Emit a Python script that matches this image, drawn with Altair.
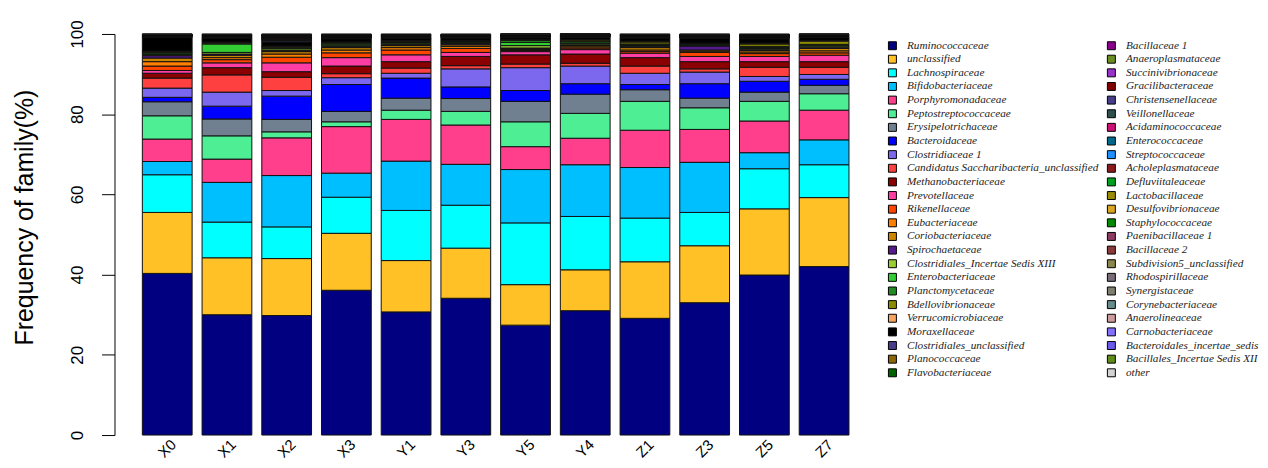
import altair as alt
import pandas as pd

samples = ["X0", "X1", "X2", "X3", "Y1", "Y3", "Y5", "Y4", "Z1", "Z3", "Z5", "Z7"]

families = [
    "Ruminococcaceae", "unclassified", "Lachnospiraceae", "Bifidobacteriaceae",
    "Porphyromonadaceae", "Peptostreptococcaceae", "Erysipelotrichaceae", "Bacteroidaceae",
    "Clostridiaceae 1", "Candidatus Saccharibacteria_unclassified", "Methanobacteriaceae",
    "Prevotellaceae", "Rikenellaceae", "Eubacteriaceae", "Coriobacteriaceae", "Spirochaetaceae",
    "Clostridiales_Incertae Sedis XIII", "Enterobacteriaceae", "Planctomycetaceae",
    "Bdellovibrionaceae", "Verrucomicrobiaceae", "Moraxellaceae", "Clostridiales_unclassified",
    "Planococcaceae", "Flavobacteriaceae",
    "Bacillaceae 1", "Anaeroplasmataceae", "Succinivibrionaceae", "Gracilibacteraceae",
    "Christensenellaceae", "Veillonellaceae", "Acidaminococcaceae", "Enterococcaceae",
    "Streptococcaceae", "Acholeplasmataceae", "Defluviitaleaceae", "Lactobacillaceae",
    "Desulfovibrionaceae", "Staphylococcaceae", "Paenibacillaceae 1", "Bacillaceae 2",
    "Subdivision5_unclassified", "Rhodospirillaceae", "Synergistaceae", "Corynebacteriaceae",
    "Anaerolineaceae", "Carnobacteriaceae", "Bacteroidales_incertae_sedis",
    "Bacillales_Incertae Sedis XII", "other",
]

colors = [
    "#000080", "#FFC125", "#00FFFF", "#00BFFF",
    "#FF3E8C", "#4EEE94", "#708090", "#0000FF",
    "#7B68EE", "#FF4040", "#8B0000",
    "#FF3EA5", "#FF4500", "#FF7F00", "#CD8500", "#551A8B",
    "#9ACD32", "#32CD32", "#228B22",
    "#8B8B00", "#F4A460", "#000000", "#483D8B",
    "#8B6508", "#006400",
    "#8B008B", "#6B8E23", "#9932CC", "#800000",
    "#483D8B", "#2F4F4F", "#CD1076", "#00688B",
    "#1E90FF", "#8B1A1A", "#00A020", "#9B8B00",
    "#DAA520", "#008B00", "#8B3A62", "#8B3A3A",
    "#8B864E", "#786C78", "#7F7F6F", "#668B8B",
    "#CD9B9B", "#8470FF", "#6A5AEE",
    "#5E8B1A", "#D3D3D3",
]

# values per family, in sample order X0 X1 X2 X3 Y1 Y3 Y5 Y4 Z1 Z3 Z5 Z7
ruminococcaceae = [40.3, 30.0, 29.8, 36.1, 30.7, 34.1, 27.4, 31.0, 29.1, 33.0, 39.9, 42.0]
unclassified = [15.2, 14.2, 14.2, 14.2, 12.8, 12.5, 10.1, 10.2, 14.1, 14.2, 16.5, 17.2]
lachnospiraceae = [9.4, 8.9, 7.9, 9.0, 12.5, 10.7, 15.4, 13.3, 10.9, 8.3, 10.0, 8.2]
bifidobacteriaceae = [3.3, 9.9, 12.8, 6.0, 12.3, 10.2, 13.3, 12.9, 12.6, 12.5, 4.0, 6.2]
porphyromonadaceae = [5.6, 5.8, 9.4, 11.6, 10.4, 9.8, 5.7, 6.6, 9.3, 8.2, 7.9, 7.4]
peptostreptococcaceae = [5.8, 5.8, 1.5, 1.2, 2.3, 3.4, 6.2, 6.2, 7.2, 5.4, 4.9, 4.1]
erysipelotrichaceae = [3.5, 4.2, 3.1, 2.6, 3.0, 3.2, 5.1, 4.8, 2.9, 2.4, 2.3, 2.1]
bacteroidaceae = [1.1, 3.2, 5.8, 6.7, 5.0, 2.9, 2.7, 2.6, 1.3, 3.6, 2.7, 1.5]
clostridiaceae_1 = [2.3, 3.5, 1.4, 1.7, 1.2, 4.5, 5.7, 4.4, 2.8, 2.9, 1.2, 1.2]
candidatus_sacch = [2.5, 4.3, 3.3, 1.0, 1.3, 0.8, 0.9, 0.7, 1.8, 0.8, 2.3, 1.8]
methanobacteriaceae = [1.2, 1.8, 1.4, 1.9, 1.6, 2.3, 2.3, 2.3, 2.1, 1.8, 1.4, 1.4]
prevotellaceae = [0.7, 1.2, 2.2, 2.1, 1.7, 1.0, 0.8, 1.1, 1.1, 1.3, 1.3, 1.6]
rikenellaceae = [1.1, 0.8, 1.4, 1.2, 1.2, 1.0, 0.3, 0.4, 0.4, 1.0, 0.7, 0.6]
eubacteriaceae = [1.1, 0.5, 0.8, 0.7, 0.6, 0.5, 0.2, 0.3, 0.4, 0.3, 0.4, 0.5]
coriobacteriaceae = [0.9, 0.6, 0.6, 0.6, 0.5, 0.4, 0.2, 0.3, 0.6, 0.3, 0.4, 0.6]
spirochaetaceae = [0.6, 0.3, 0.3, 0.3, 0.3, 0.3, 0.2, 0.2, 0.3, 1.0, 0.3, 0.3]
clostridiales_inc_xiii = [0.2, 0.4, 0.4, 0.3, 0.3, 0.2, 0.6, 0.3, 0.2, 0.1, 0.2, 0.3]
enterobacteriaceae = [0.2, 2.1, 0.2, 0.3, 0.2, 0.2, 0.8, 0.4, 0.2, 0.1, 0.2, 0.2]
planctomycetaceae = [0.3, 0.2, 0.2, 0.2, 0.1, 0.1, 0.5, 0.2, 0.2, 0.2, 0.3, 0.2]
bdellovibrionaceae = [0.2, 0.2, 0.2, 0.2, 0.2, 0.2, 0.2, 0.3, 0.5, 0.2, 0.6, 0.8]
verrucomicrobiaceae = [0.2, 0.1, 0.1, 0.1, 0.1, 0.1, 0.1, 0.1, 0.2, 0.1, 0.2, 0.2]
moraxellaceae = [3.4, 1.0, 1.0, 0.8, 0.7, 0.6, 0.5, 0.5, 0.8, 1.2, 1.1, 0.8]
clostridiales_uncl = [0.10, 0.10, 0.30, 0.15, 0.10, 0.10, 0.08, 0.10, 0.10, 0.12, 0.15, 0.08]
planococcaceae = [0.05, 0.06, 0.15, 0.08, 0.06, 0.06, 0.05, 0.06, 0.06, 0.06, 0.08, 0.05]
flavobacteriaceae = [0.05, 0.05, 0.10, 0.06, 0.05, 0.05, 0.06, 0.05, 0.05, 0.05, 0.06, 0.04]
bacillaceae_1 = [0.04, 0.04, 0.08, 0.05, 0.04, 0.04, 0.03, 0.04, 0.04, 0.05, 0.05, 0.03]
anaeroplasmataceae = [0.03, 0.04, 0.08, 0.05, 0.04, 0.04, 0.03, 0.04, 0.04, 0.04, 0.05, 0.03]
succinivibrionaceae = [0.03, 0.03, 0.08, 0.04, 0.03, 0.03, 0.03, 0.03, 0.03, 0.04, 0.04, 0.03]
gracilibacteraceae = [0.03, 0.03, 0.07, 0.04, 0.03, 0.03, 0.03, 0.03, 0.03, 0.04, 0.04, 0.03]
christensenellaceae = [0.05, 0.05, 0.08, 0.05, 0.05, 0.05, 0.04, 0.05, 0.05, 0.05, 0.05, 0.04]
veillonellaceae = [0.03, 0.04, 0.07, 0.04, 0.03, 0.03, 0.03, 0.03, 0.04, 0.04, 0.04, 0.03]
acidaminococcaceae = [0.03, 0.03, 0.06, 0.04, 0.03, 0.03, 0.03, 0.03, 0.03, 0.03, 0.04, 0.03]
enterococcaceae = [0.02, 0.03, 0.06, 0.03, 0.03, 0.03, 0.02, 0.03, 0.03, 0.03, 0.03, 0.02]
streptococcaceae = [0.02, 0.03, 0.06, 0.03, 0.03, 0.03, 0.02, 0.03, 0.03, 0.03, 0.03, 0.02]
acholeplasmataceae = [0.02, 0.03, 0.05, 0.03, 0.03, 0.03, 0.02, 0.03, 0.03, 0.03, 0.03, 0.02]
defluviitaleaceae = [0.03, 0.03, 0.05, 0.03, 0.03, 0.03, 0.02, 0.03, 0.03, 0.03, 0.03, 0.02]
lactobacillaceae = [0.02, 0.03, 0.05, 0.03, 0.03, 0.03, 0.02, 0.03, 0.03, 0.03, 0.03, 0.02]
desulfovibrionaceae = [0.05, 0.04, 0.06, 0.04, 0.04, 0.04, 0.03, 0.04, 0.04, 0.04, 0.04, 0.03]
staphylococcaceae = [0.02, 0.02, 0.05, 0.03, 0.02, 0.02, 0.02, 0.02, 0.02, 0.03, 0.03, 0.02]
paenibacillaceae_1 = [0.02, 0.02, 0.05, 0.03, 0.02, 0.02, 0.02, 0.02, 0.02, 0.03, 0.03, 0.02]
bacillaceae_2 = [0.02, 0.02, 0.05, 0.03, 0.02, 0.02, 0.02, 0.02, 0.02, 0.03, 0.03, 0.02]
subdivision5_uncl = [0.02, 0.02, 0.05, 0.03, 0.02, 0.02, 0.02, 0.02, 0.02, 0.03, 0.03, 0.02]
rhodospirillaceae = [0.02, 0.02, 0.04, 0.03, 0.02, 0.02, 0.02, 0.02, 0.02, 0.03, 0.03, 0.02]
synergistaceae = [0.02, 0.02, 0.04, 0.03, 0.02, 0.02, 0.02, 0.02, 0.02, 0.03, 0.03, 0.02]
corynebacteriaceae = [0.02, 0.02, 0.04, 0.02, 0.02, 0.02, 0.02, 0.02, 0.02, 0.02, 0.02, 0.02]
anaerolineaceae = [0.02, 0.02, 0.04, 0.02, 0.02, 0.02, 0.02, 0.02, 0.02, 0.02, 0.02, 0.02]
carnobacteriaceae = [0.02, 0.02, 0.04, 0.02, 0.02, 0.02, 0.02, 0.02, 0.02, 0.02, 0.02, 0.02]
bacteroidales_inc = [0.02, 0.02, 0.04, 0.02, 0.02, 0.02, 0.02, 0.02, 0.02, 0.02, 0.02, 0.02]
bacillales_inc_xii = [0.02, 0.02, 0.04, 0.02, 0.02, 0.02, 0.02, 0.02, 0.02, 0.02, 0.02, 0.02]
other = [0.08, 0.12, 0.12, 0.13, 0.13, 0.13, 0.04, 0.03, 0.12, 0.11, 0.13, 0.06]

family_values = [
    ruminococcaceae, unclassified, lachnospiraceae, bifidobacteriaceae,
    porphyromonadaceae, peptostreptococcaceae, erysipelotrichaceae, bacteroidaceae,
    clostridiaceae_1, candidatus_sacch, methanobacteriaceae, prevotellaceae,
    rikenellaceae, eubacteriaceae, coriobacteriaceae, spirochaetaceae,
    clostridiales_inc_xiii, enterobacteriaceae, planctomycetaceae, bdellovibrionaceae,
    verrucomicrobiaceae, moraxellaceae, clostridiales_uncl, planococcaceae,
    flavobacteriaceae, bacillaceae_1, anaeroplasmataceae, succinivibrionaceae,
    gracilibacteraceae, christensenellaceae, veillonellaceae, acidaminococcaceae,
    enterococcaceae, streptococcaceae, acholeplasmataceae, defluviitaleaceae,
    lactobacillaceae, desulfovibrionaceae, staphylococcaceae, paenibacillaceae_1,
    bacillaceae_2, subdivision5_uncl, rhodospirillaceae, synergistaceae,
    corynebacteriaceae, anaerolineaceae, carnobacteriaceae, bacteroidales_inc,
    bacillales_inc_xii, other,
]

rows = []
for fi, (fam, vals) in enumerate(zip(families, family_values)):
    for s, v in zip(samples, vals):
        rows.append({"sample": s, "family": fam, "idx": fi, "value": v})
df = pd.DataFrame(rows)

chart = alt.Chart(df).mark_bar(stroke="#111111", strokeWidth=1).encode(
    x=alt.X(
        "sample:N", sort=samples,
        scale=alt.Scale(paddingInner=1 / 6, paddingOuter=0.1),
        axis=alt.Axis(title=None, labelAngle=315, labelAlign="center",
                      labelBaseline="middle", labelPadding=13, domain=False,
                      ticks=False, labelFont="Liberation Sans", labelFontSize=15,
                      labelColor="black"),
    ),
    y=alt.Y(
        "value:Q", stack="zero",
        scale=alt.Scale(domain=[0, 100], nice=False),
        axis=alt.Axis(values=[0, 20, 40, 60, 80, 100], title="Frequency of family(%)",
                      titleFont="Liberation Sans", titleFontSize=25,
                      titleFontWeight="normal", titleColor="black", titleAngle=270,
                      titleAlign="center", titleBaseline="middle",
                      titleX=-90, titleY=184,
                      labelAngle=270, labelAlign="center", labelBaseline="bottom",
                      labelPadding=15, labelFont="Liberation Sans", labelFontSize=17,
                      labelColor="black", tickSize=13, tickColor="black",
                      domainColor="black", offset=22, grid=False),
    ),
    fill=alt.Fill(
        "family:N",
        scale=alt.Scale(domain=families, range=colors),
        legend=alt.Legend(title=None, orient="none", legendX=754, legendY=6,
                          columns=2, symbolType="square", symbolSize=64,
                          symbolLimit=60,
                          symbolStrokeColor="black", symbolStrokeWidth=1,
                          symbolOpacity=1,
                          labelFont="Liberation Serif", labelFontStyle="italic",
                          labelFontSize=11.3, labelColor="#222222", labelLimit=400,
                          labelOffset=9, rowPadding=0.7, columnPadding=6,
                          padding=0),
    ),
    order=alt.Order("idx:Q", sort="ascending"),
).properties(
    width=722, height=403,
    background="white",
    autosize=alt.AutoSizeParams(type="none"),
    padding={"left": 129, "top": 25, "right": 407, "bottom": 28},
).configure_view(stroke=None)

chart.save("out.html", embed_options={"renderer": "svg", "actions": False})
